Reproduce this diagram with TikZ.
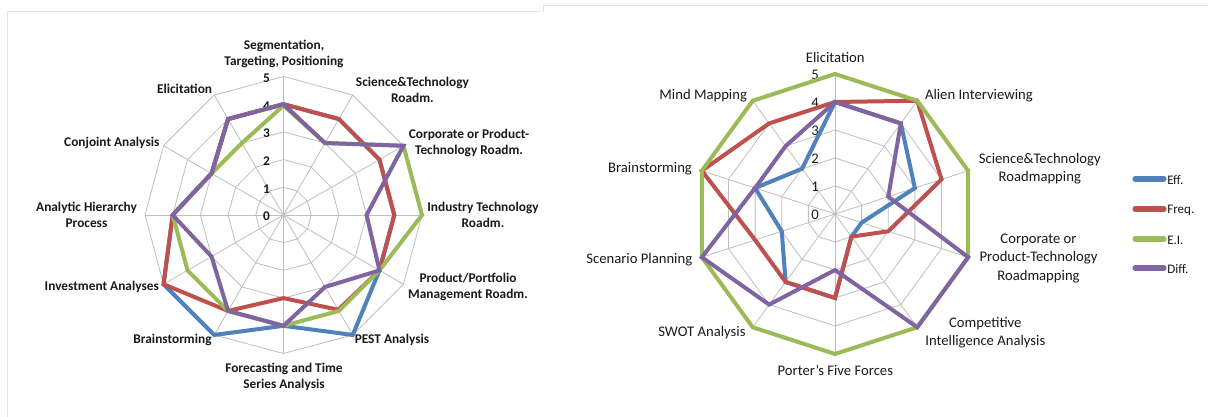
\documentclass[tikz,border=0pt]{standalone}
\usepackage{fontspec}
\setmainfont{Carlito}
\definecolor{effc}{HTML}{4F81BD}
\definecolor{freqc}{HTML}{C0504D}
\definecolor{eic}{HTML}{9BBB59}
\definecolor{diffc}{HTML}{8064A2}
\definecolor{gridc}{HTML}{BFBFBF}
\definecolor{panelc}{HTML}{E4E4E4}
\definecolor{txtc}{HTML}{1A1A1A}
\begin{document}
\begin{tikzpicture}[x=0.75pt,y=-0.75pt,
  gridline/.style={draw=gridc,line width=0.6pt},
  dataline/.style={line width=3pt,line join=miter,miter limit=4},
  effline/.style={dataline,draw=effc},
  freqline/.style={dataline,draw=freqc},
  eiline/.style={dataline,draw=eic},
  diffline/.style={dataline,draw=diffc},
  llabel/.style={inner sep=0pt,align=center,text=txtc,font=\fontsize{10}{12.2}\selectfont\bfseries},
  rlabel/.style={inner sep=0pt,align=center,text=txtc,font=\fontsize{11}{13.8}\selectfont},
  ltick/.style={inner sep=0pt,text=txtc,font=\fontsize{10}{12}\selectfont\bfseries},
  rtick/.style={inner sep=0pt,text=txtc,font=\fontsize{11}{13}\selectfont},
  legline/.style={line width=3.8pt,line cap=round},
  legtext/.style={inner sep=0pt,anchor=west,text=txtc,font=\fontsize{9.8}{12}\selectfont},
  panel/.style={draw=panelc,line width=0.6pt}]
\useasboundingbox (0,0) rectangle (1208,417);
\fill[white] (0,0) rectangle (1208,417);
% panel borders
\draw[panel] (7,417) -- (7,11) -- (540,11);
\draw[panel] (543,12) -- (543,5) -- (1208,5);

% ================= LEFT CHART =================
\def\lcx{283.5}\def\lcy{215}\def\lu{27.7}
\coordinate (LC) at (\lcx,\lcy);
\foreach \k in {1,...,5} {
  \draw[gridline] ({\lcx},{\lcy-\k*\lu})
    \foreach \a in {30,60,...,330} { -- ({\lcx+\k*\lu*sin(\a)},{\lcy-\k*\lu*cos(\a)}) } -- cycle;
}
\foreach \a in {0,30,...,330}
  \draw[gridline] (LC) -- ({\lcx+5*\lu*sin(\a)},{\lcy-5*\lu*cos(\a)});
\foreach \k in {0,...,5}
  \node[ltick] (lt\k) at ({\lcx-17},{\lcy-\k*\lu+1.5}) {\k};

\foreach \v [count=\i from 0] in {4,4,4,4,4,5,4,5,5,4,3,4}
  \coordinate (LE\i) at ({\lcx+\v*\lu*sin(30*\i)},{\lcy-\v*\lu*cos(30*\i)});
\foreach \v [count=\i from 0] in {4,4,4,4,4,3.95,3,4,5,4,3,4}
  \coordinate (LF\i) at ({\lcx+\v*\lu*sin(30*\i)},{\lcy-\v*\lu*cos(30*\i)});
\foreach \v [count=\i from 0] in {3.95,3,5,5,4,4,4,4,4,4,3,3}
  \coordinate (LG\i) at ({\lcx+\v*\lu*sin(30*\i)},{\lcy-\v*\lu*cos(30*\i)});
\foreach \v [count=\i from 0] in {4,3,5,3,4,3,4,4,3,4,3,4}
  \coordinate (LD\i) at ({\lcx+\v*\lu*sin(30*\i)},{\lcy-\v*\lu*cos(30*\i)});
\draw[effline] (LE0) \foreach \i in {1,...,11} { -- (LE\i) } -- cycle;
\draw[freqline] (LF0) \foreach \i in {1,...,11} { -- (LF\i) } -- cycle;
\draw[eiline] (LG0) \foreach \i in {1,...,11} { -- (LG\i) } -- cycle;
\draw[diffline] (LD0) \foreach \i in {1,...,11} { -- (LD\i) } -- cycle;

\node[llabel] (l1) at (284,54) {Segmentation,\\Targeting, Positioning};
\node[llabel] (l2) at (412.5,90) {Science\&Technology\\Roadm.};
\node[llabel] (l3) at (469,143.3) {Corporate or Product-\\Technology Roadm.};
\node[llabel] (l4) at (483,215) {Industry Technology\\Roadm.};
\node[llabel] (l5) at (468,286.7) {Product/Portfolio\\Management Roadm.};
\node[llabel] (l6) at (392,340) {PEST Analysis};
\node[llabel] (l7) at (284,376.7) {Forecasting and Time\\Series Analysis};
\node[llabel] (l8) at (172.5,340) {Brainstorming};
\node[llabel] (l9) at (101.8,287.3) {Investment Analyses};
\node[llabel] (l10) at (86.5,215) {Analytic Hierarchy\\Process};
\node[llabel] (l11) at (111.8,143.3) {Conjoint Analysis};
\node[llabel] (l12) at (184.6,89.3) {Elicitation};

% ================= RIGHT CHART =================
\def\rcx{835}\def\rcy{214}\def\ru{28}
\coordinate (RC) at (\rcx,\rcy);
\foreach \k in {1,...,5} {
  \draw[gridline] ({\rcx},{\rcy-\k*\ru})
    \foreach \a in {36,72,...,324} { -- ({\rcx+\k*\ru*sin(\a)},{\rcy-\k*\ru*cos(\a)}) } -- cycle;
}
\foreach \a in {0,36,...,324}
  \draw[gridline] (RC) -- ({\rcx+5*\ru*sin(\a)},{\rcy-5*\ru*cos(\a)});
\foreach \k in {0,...,5}
  \node[rtick] (rt\k) at ({\rcx-20},{\rcy-\k*\ru+1}) {\k};

\foreach \v [count=\i from 0] in {4,4,3,1,1,3,3,2,3,2}
  \coordinate (RE\i) at ({\rcx+\v*\ru*sin(36*\i)},{\rcy-\v*\ru*cos(36*\i)});
\foreach \v [count=\i from 0] in {4,5,4,2,1,3,3,3,5,4}
  \coordinate (RF\i) at ({\rcx+\v*\ru*sin(36*\i)},{\rcy-\v*\ru*cos(36*\i)});
\foreach \v [count=\i from 0] in {5,5,5,5,5,5,5,5,5,5}
  \coordinate (RG\i) at ({\rcx+\v*\ru*sin(36*\i)},{\rcy-\v*\ru*cos(36*\i)});
\foreach \v [count=\i from 0] in {4,4,2,5,5,2,4,5,3,3}
  \coordinate (RD\i) at ({\rcx+\v*\ru*sin(36*\i)},{\rcy-\v*\ru*cos(36*\i)});
\draw[effline] (RE0) \foreach \i in {1,...,9} { -- (RE\i) } -- cycle;
\draw[freqline] (RF0) \foreach \i in {1,...,9} { -- (RF\i) } -- cycle;
\draw[eiline] (RG0) \foreach \i in {1,...,9} { -- (RG\i) } -- cycle;
\draw[diffline] (RD0) \foreach \i in {1,...,9} { -- (RD\i) } -- cycle;

\node[rlabel] (r1) at (835.3,57.3) {Elicitation};
\node[rlabel] (r2) at (978.9,95.7) {Alien Interviewing};
\node[rlabel] (r3) at (1039.8,168.5) {Science\&Technology\\Roadmapping};
\node[rlabel] (r4) at (1038.5,258.3) {Corporate or\\Product-Technology\\Roadmapping};
\node[rlabel] (r5) at (985.3,332.5) {Competitive\\Intelligence Analysis};
\node[rlabel] (r6) at (835.3,370.7) {Porter's Five Forces};
\node[rlabel] (r7) at (701.9,332.3) {SWOT Analysis};
\node[rlabel] (r8) at (639.3,259.3) {Scenario Planning};
\node[rlabel] (r9) at (650,169) {Brainstorming};
\node[rlabel] (r10) at (703.2,96) {Mind Mapping};

% legend
\coordinate (g1a) at (1135,179); \coordinate (g1b) at (1164,179);
\coordinate (g2a) at (1135,209); \coordinate (g2b) at (1164,209);
\coordinate (g3a) at (1135,239); \coordinate (g3b) at (1164,239);
\coordinate (g4a) at (1135,268); \coordinate (g4b) at (1164,268);
\draw[legline,effc] (g1a) -- (g1b);
\draw[legline,freqc] (g2a) -- (g2b);
\draw[legline,eic] (g3a) -- (g3b);
\draw[legline,diffc] (g4a) -- (g4b);
\node[legtext] (t1) at (1167,180) {Eff.};
\node[legtext] (t2) at (1167,210) {Freq.};
\node[legtext] (t3) at (1167,240) {E.I.};
\node[legtext] (t4) at (1167,269) {Diff.};
\end{tikzpicture}
\end{document}
